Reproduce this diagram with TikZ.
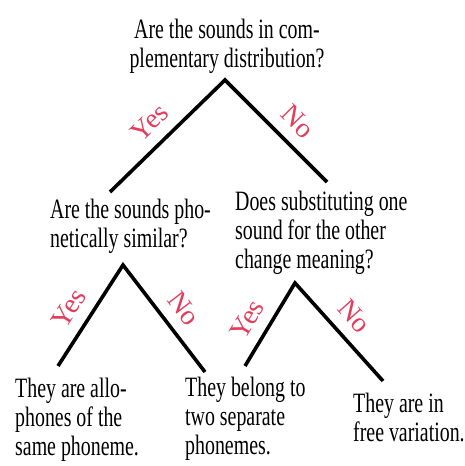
\documentclass[tikz,border=0pt]{standalone}
\usepackage{fontspec}
\setmainfont{Liberation Serif}[FakeStretch=0.71]
\newfontfamily\markfont{Liberation Serif}
\usepackage{xcolor}
\usepackage{tikz}
\usetikzlibrary{positioning}
\definecolor{answerred}{HTML}{E23D5C}
\tikzset{
  ask/.style   = {anchor=north west, inner sep=0pt, align=left, font=\fontsize{28}{29}\selectfont},
  limb/.style  = {line width=3.6pt, draw=black},
  vote/.style  = {sloped, above=11pt, inner sep=0pt, text=answerred, font=\markfont\fontsize{28}{28}\selectfont},
}
\begin{document}
\begin{tikzpicture}[x=1pt, y=1pt]
  \useasboundingbox (0,0) rectangle (465,466);
  % questions
  \node[ask, anchor=north, align=center] (compl) at (227,447) {Are the sounds in com-\\plementary distribution?};
  \node[ask] (simil) at (50,267) {Are the sounds pho-\\netically similar?};
  \node[ask] (subst) at (235,275) {Does substituting one\\sound for the other\\change meaning?};
  % outcomes
  \node[ask] (allo) at (15,88) {They are allo-\\phones of the\\same phoneme.};
  \node[ask] (sepa) at (185,89) {They belong to\\two separate\\phonemes.};
  \node[ask] (free) at (353,73) {They are in\\free variation.};

  % branch points
  \coordinate (complTip) at (225,386);
  \coordinate (simil-in) at (110,274);
  \coordinate (subst-in) at (327,284);
  \coordinate (similTip) at (123,201);
  \coordinate (allo-in) at (58,100);
  \coordinate (sepa-in) at (205,94);
  \coordinate (substTip) at (295,183);
  \coordinate (sepa-in2) at (245,100);
  \coordinate (free-in) at (383,85);

  \draw[limb] (simil-in) -- node[vote, pos=0.48] {Yes} (complTip)
                         -- node[vote, pos=0.56] {No} (subst-in);
  \draw[limb] (allo-in) -- node[vote, pos=0.45] {Yes} (similTip)
                        -- node[vote, pos=0.53] {No} (sepa-in);
  \draw[limb] (sepa-in2) -- node[vote, pos=0.42] {Yes} (substTip)
                         -- node[vote, pos=0.49] {No} (free-in);
\end{tikzpicture}
\end{document}
